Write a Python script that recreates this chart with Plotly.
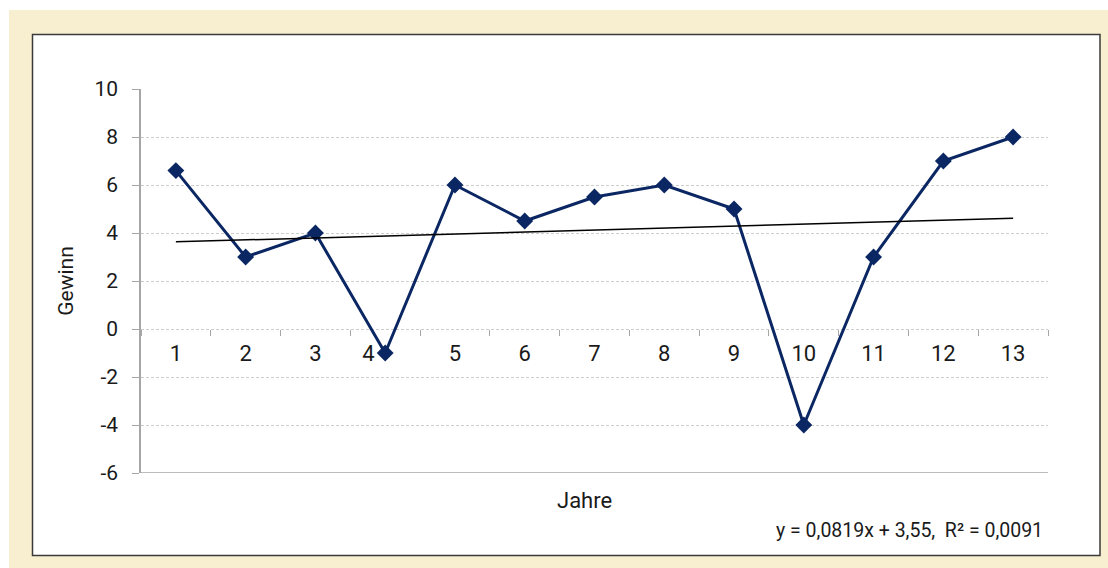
import plotly.graph_objects as go

# ---- data ----
jahre = ["1", "2", "3", "4", "5", "6", "7", "8", "9", "10", "11", "12", "13"]
gewinn = [6.6, 3, 4, -1, 6, 4.5, 5.5, 6, 5, -4, 3, 7, 8]
trend_slope = 0.0819
trend_intercept = 3.55
r_squared = 0.0091
y_ticks = [10, 8, 6, 4, 2, 0, -2, -4, -6]

trend = [trend_intercept + trend_slope * (i + 1) for i in range(len(jahre))]

NAVY = "#0b2763"
FONT = "Roboto, DejaVu Sans, sans-serif"
TXT = "#1a1a1a"
AX = "#a6a6a6"

# layout geometry (pixels)
W, H = 1108, 568
L, R, T, B = 141, 60, 89, 95
pw, ph = W - L - R, H - T - B


def px_x(px):
    return (px - L) / pw


def px_y(py):
    return (H - B - py) / ph


# the label of year 4 sits left of its (negative) marker in the reference
x_ticktext = [j + "\u2002\u2003" if j == "4" else j for j in jahre]

fig = go.Figure()
fig.add_trace(go.Scatter(
    x=jahre, y=gewinn, mode="lines+markers",
    line=dict(color=NAVY, width=3),
    marker=dict(symbol="diamond", size=13, color=NAVY),
    showlegend=False, hoverinfo="skip",
))
fig.add_trace(go.Scatter(
    x=jahre, y=trend, mode="lines",
    line=dict(color="#000000", width=1.5),
    showlegend=False, hoverinfo="skip",
))

ymin, ymax = min(y_ticks), max(y_ticks)
zero_pos = (0 - ymin) / (ymax - ymin)

eq_text = ("y = " + f"{trend_slope:.4f}".replace(".", ",") + "x + "
           + f"{trend_intercept:.2f}".replace(".", ",")
           + ",\u00a0\u00a0R\u00b2 = " + f"{r_squared:.4f}".replace(".", ","))

fig.update_layout(
    width=W, height=H,
    margin=dict(l=L, r=R, t=T, b=B),
    paper_bgcolor="white",
    plot_bgcolor="rgba(0,0,0,0)",
    font=dict(family=FONT, size=21, color=TXT),
    xaxis=dict(
        type="category", anchor="free", position=zero_pos,
        range=[-0.5, len(jahre) - 0.5],
        tickmode="array", tickvals=jahre, ticktext=x_ticktext,
        tickson="boundaries", ticks="outside", ticklen=6, tickcolor=AX,
        tickwidth=1.3, ticklabelstandoff=9,
        showline=False, showgrid=False, zeroline=False,
        tickfont=dict(size=22, color=TXT),
    ),
    yaxis=dict(
        range=[ymin, ymax], tickvals=y_ticks, ticktext=[str(v) for v in y_ticks],
        showline=True, linecolor=AX, linewidth=1.5,
        ticks="outside", ticklen=7, tickcolor=AX, tickwidth=1.3,
        ticklabelstandoff=10,
        showgrid=True, gridcolor="#cdcdcd", gridwidth=1, griddash="3px,2px",
        zeroline=False,
        tickfont=dict(size=21, color=TXT),
        title=dict(text="Gewinn", font=dict(size=21, color=TXT), standoff=15),
    ),
    shapes=[
        dict(type="rect", xref="paper", yref="paper",
             x0=px_x(9), x1=px_x(W + 5), y0=px_y(H + 5), y1=px_y(10),
             fillcolor="#f7efd0", line=dict(width=0), layer="below"),
        dict(type="rect", xref="paper", yref="paper",
             x0=px_x(32.5), x1=px_x(1100), y0=px_y(555.5), y1=px_y(34.5),
             fillcolor="white", line=dict(color="#3a3a3a", width=1.5), layer="below"),
        # bottom axis line at the lower end of the value range
        dict(type="line", xref="paper", yref="y", x0=0, x1=1, y0=ymin, y1=ymin,
             line=dict(color=AX, width=1.5), layer="below"),
    ],
    annotations=[
        dict(text="Jahre", xref="paper", yref="paper",
             x=px_x(584), y=px_y(500), xanchor="center", yanchor="middle",
             showarrow=False, font=dict(size=22, color=TXT)),
        dict(text=eq_text,
             xref="paper", yref="paper", x=px_x(1045), y=px_y(530),
             xanchor="right", yanchor="middle", showarrow=False,
             font=dict(size=19.5, color=TXT)),
    ],
)

fig.write_html("out.html")
